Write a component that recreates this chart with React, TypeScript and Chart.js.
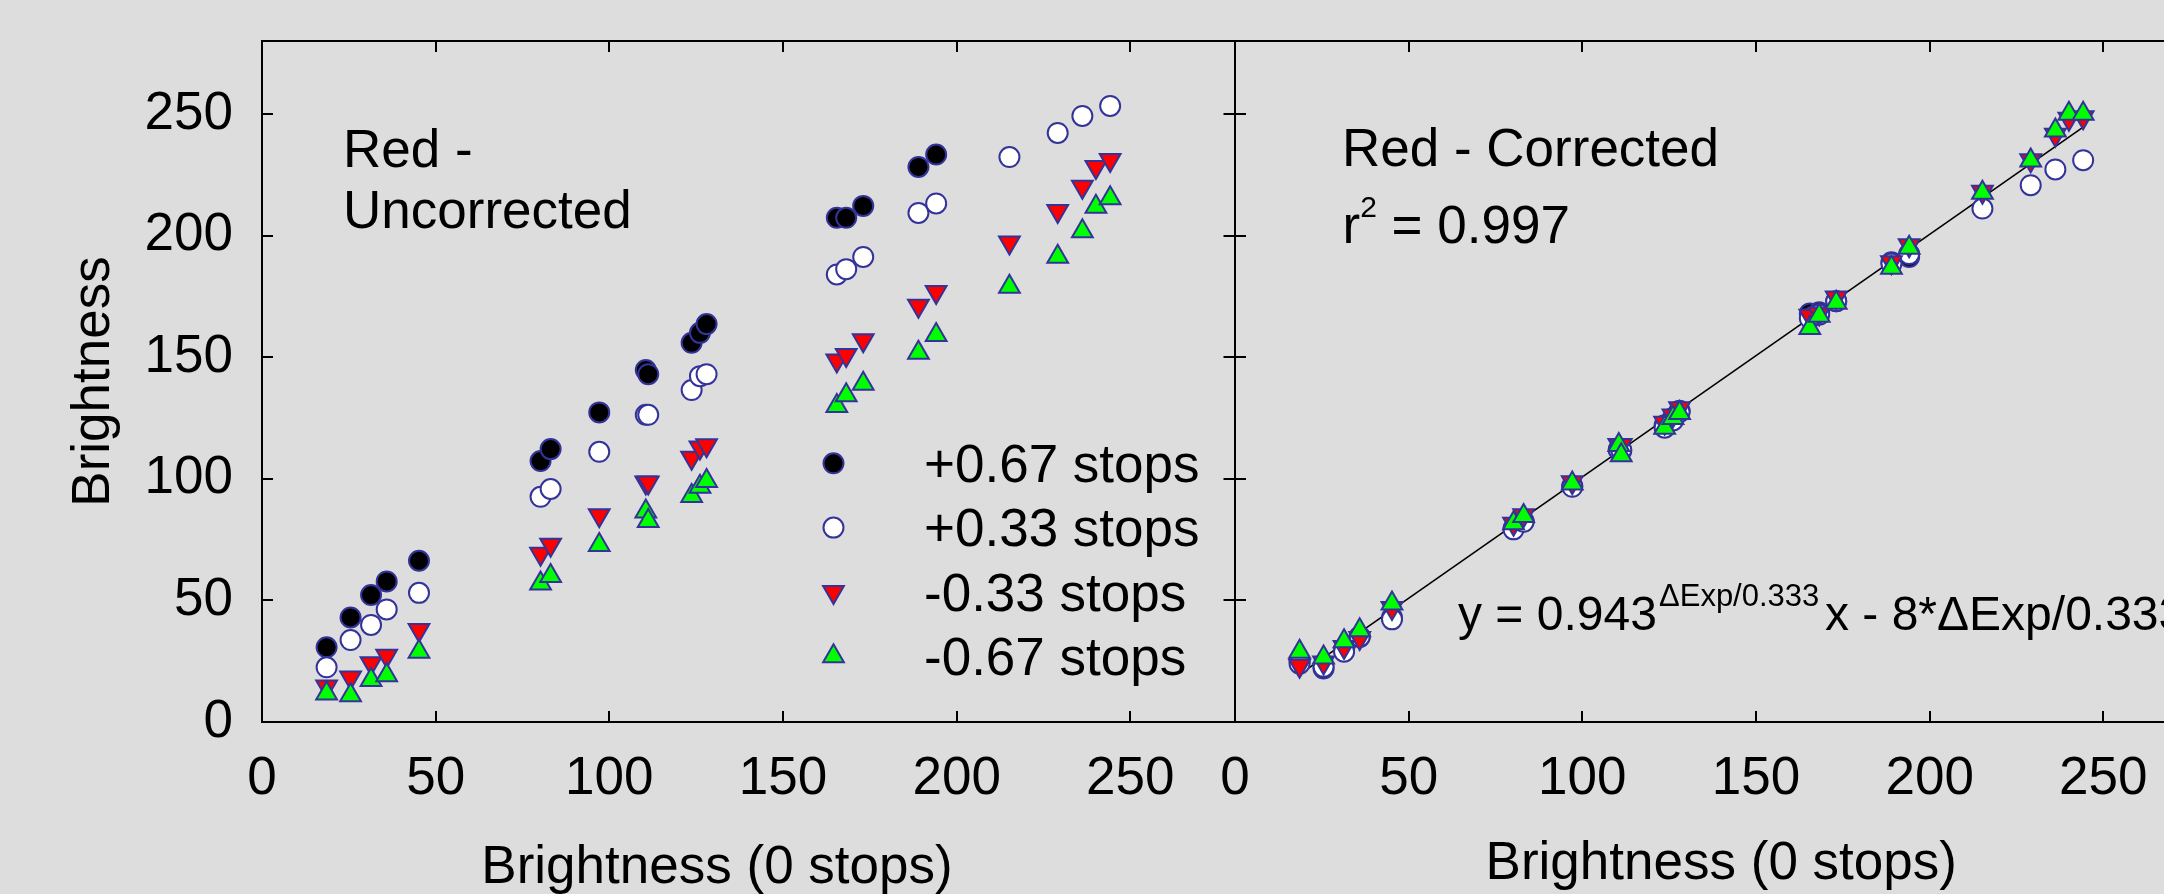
import React, { useEffect, useRef } from 'react';
import { Chart, registerables } from 'chart.js';
import { drawPoint } from 'chart.js/helpers';

Chart.register(...registerables);

// ---------------- data ----------------
const brightness0 = [18.6, 25.5, 31.4, 35.9, 45.2, 80.2, 83.1, 97.1, 110.5, 111.2, 123.7, 126.1, 128.0, 165.5, 168.2, 173.1, 189.0, 194.1, 215.2, 229.1, 236.2, 240.1, 244.2];

// Uncorrected
const rawPlus067 = [30.7, 43.0, 52.2, 57.8, 66.3, 107.3, 112.2, 127.3, 144.7, 143.0, 155.9, 160.0, 163.6, 207.3, 207.3, 212.2, 228.2, 233.3, null, null, null, null, null];
const rawPlus033 = [22.5, 33.7, 39.9, 46.3, 53.1, 92.6, 95.8, 111.1, 126.3, 126.3, 136.5, 142.2, 143.0, 184.0, 186.2, 191.2, 209.3, 213.2, 232.3, 242.2, 249.2, null, 253.3];
const rawMinus033 = [14.6, 18.3, 24.2, 27.2, 37.8, 69.2, 72.9, 85.0, 98.5, 98.5, 108.7, 112.9, 113.8, 148.6, 150.9, 157.0, 171.1, 176.8, 197.1, 210.1, 220.1, 228.2, 231.1];
const rawMinus067 = [11.7, 11.0, 17.3, 19.2, 28.9, 56.9, 60.0, 72.8, 86.5, 82.6, 92.9, 96.7, 99.1, 129.9, 134.3, 139.1, 151.8, 159.1, 179.0, 191.3, 201.8, 211.8, 215.3];

// Corrected
const corPlus067 = [25, 22, 29.5, 35, 43, 79.5, 82.5, 97, 112, 111.5, 122, 125, 128, 168, 168.5, 173, 189, 191.2, null, null, null, null, null];
const corPlus033 = [24, 22.7, 28.9, 35.1, 42.2, 79.2, 82.3, 96.7, 111.8, 111.8, 121, 124, 127.5, 166, 167.5, 173, 188.5, 192.4, 211.1, 220.7, 227.2, null, 231];
const corMinus033 = [23.1, 24.5, 30.8, 34.5, 46.9, 81.5, 85, 98.6, 113.9, 113.9, 123, 126, 129, 167, 168, 174.5, 189, 196, 218, 231, 241.5, 248, 248.7];
const corMinus067 = [28.9, 26.5, 33.2, 37.7, 48.7, 81.7, 84.7, 98.1, 113.9, 109.7, 121, 125, 127, 162, 167, 172.4, 186.8, 195, 217.6, 230.9, 243.2, 250.1, 250.1];

// fit line
const fitX = [18, 244];
const fitY = [19, 244.4];

// texts
const legendLabels = ['+0.67 stops', '+0.33 stops', '-0.33 stops', '-0.67 stops'];
const leftPanelTitle = ['Red -', 'Uncorrected'];
const rightPanelTitle = 'Red - Corrected';
const r2Text = ' = 0.997';
const eqMain = 'y = 0.943';
const eqSup = '\u0394Exp/0.333';
const eqTail = 'x - 8*\u0394Exp/0.333';
const xTitle = 'Brightness (0 stops)';
const yTitle = 'Brightness';

// ---------------- styles ----------------
const W = 2164;
const H = 894;
const BG = '#dddddd';
const EDGE = '#333399';
const FONT = "'Liberation Sans', Arial, Helvetica, sans-serif";
const FS = 53;
const EQ = 48;

const seriesStyles = [
  { fill: '#000000', pointStyle: 'circle', rotation: 0, radius: 10, order: 4 },
  { fill: '#ffffff', pointStyle: 'circle', rotation: 0, radius: 10, order: 3 },
  { fill: '#ff0000', pointStyle: 'triangle', rotation: 180, radius: 12, order: 2 },
  { fill: '#00ff00', pointStyle: 'triangle', rotation: 0, radius: 12, order: 1 },
];

const LEFT_W = 1260;
const RIGHT_L = 1150;
const RIGHT_W = 1100;
const AREA_TOP = 41;
const AREA_BOTTOM = 722;
const LEFT_AREA_L = 262;
const LEFT_AREA_R = 1234.5;
const RIGHT_AREA_L = 1235;
const RIGHT_AREA_R = 2207.5;

function toPoints(ys: (number | null)[]) {
  const out: { x: number; y: number }[] = [];
  brightness0.forEach((x, i) => {
    const y = ys[i];
    if (y !== null && y !== undefined) out.push({ x, y });
  });
  return out;
}

function makeDatasets(series: (number | null)[][], withFit: boolean) {
  const ds: any[] = series.map((s, i) => {
    const st = seriesStyles[i];
    return {
      label: legendLabels[i],
      data: toPoints(s),
      pointStyle: st.pointStyle,
      rotation: st.rotation,
      pointRadius: st.radius,
      pointHoverRadius: st.radius,
      pointBackgroundColor: st.fill,
      pointBorderColor: EDGE,
      pointBorderWidth: 2,
      backgroundColor: st.fill,
      borderColor: EDGE,
      showLine: false,
      order: st.order,
    };
  });
  if (withFit) {
    ds.push({
      label: 'fit',
      data: fitX.map((x, i) => ({ x, y: fitY[i] })),
      showLine: true,
      borderColor: '#000000',
      borderWidth: 1.6,
      pointRadius: 0,
      fill: false,
      order: 5,
    });
  }
  return ds;
}

function fitV(width: number) {
  return (s: any) => {
    s.width = width;
    s.paddingTop = 0;
    s.paddingBottom = 0;
    s.paddingLeft = 0;
    s.paddingRight = 0;
  };
}
function fitH(height: number) {
  return (s: any) => {
    s.height = height;
    s.paddingTop = 0;
    s.paddingBottom = 0;
    s.paddingLeft = 0;
    s.paddingRight = 0;
  };
}

function axisCommon(extra: any) {
  return {
    type: 'linear',
    min: 0,
    max: 280,
    border: { display: true, color: '#000', width: 2 },
    grid: {
      display: true,
      drawOnChartArea: false,
      drawTicks: true,
      tickLength: -11,
      tickWidth: 2,
      tickColor: '#000',
      color: '#000',
      lineWidth: 2,
    },
    ...extra,
    ticks: {
      stepSize: 50,
      includeBounds: false,
      autoSkip: false,
      maxRotation: 0,
      color: '#000',
      font: { family: FONT, size: FS, lineHeight: 1.2 },
      ...(extra.ticks || {}),
    },
  };
}

const leftDecor = {
  id: 'leftDecor',
  afterDraw(chart: any) {
    const ctx = chart.ctx as CanvasRenderingContext2D;
    ctx.save();
    ctx.fillStyle = '#000';
    ctx.font = `${FS}px ${FONT}`;
    ctx.textAlign = 'left';
    ctx.textBaseline = 'alphabetic';
    leftPanelTitle.forEach((t, i) => ctx.fillText(t, 343, 167 + i * 61));
    legendLabels.forEach((t, i) => {
      const base = 482 + i * 64.3;
      const st = seriesStyles[i];
      ctx.fillStyle = st.fill;
      ctx.strokeStyle = EDGE;
      ctx.lineWidth = 2;
      drawPoint(ctx, { pointStyle: st.pointStyle, rotation: st.rotation, radius: st.radius, borderWidth: 2 } as any, 833.5, base - 18.7);
      ctx.fillStyle = '#000';
      ctx.fillText(t, 924, base);
    });
    ctx.textAlign = 'center';
    ctx.fillText(xTitle, 717, 883);
    ctx.restore();
  },
};

const rightDecor = {
  id: 'rightDecor',
  afterDraw(chart: any) {
    const ctx = chart.ctx as CanvasRenderingContext2D;
    const ox = RIGHT_L;
    ctx.save();
    ctx.fillStyle = '#000';
    ctx.textAlign = 'left';
    ctx.textBaseline = 'alphabetic';
    ctx.font = `${FS}px ${FONT}`;
    ctx.fillText(rightPanelTitle, 1342 - ox, 166);
    let x = 1342.5 - ox;
    ctx.fillText('r', x, 243);
    x += ctx.measureText('r').width;
    ctx.font = `30px ${FONT}`;
    ctx.fillText('2', x, 216.5);
    x += ctx.measureText('2').width;
    ctx.font = `${FS}px ${FONT}`;
    ctx.fillText(r2Text, x, 243);
    // equation
    ctx.font = `${EQ}px ${FONT}`;
    ctx.fillText(eqMain, 1458 - ox, 630);
    ctx.font = `31px ${FONT}`;
    ctx.fillText(eqSup, 1659 - ox, 606);
    ctx.font = `${EQ}px ${FONT}`;
    ctx.fillText(eqTail, 1825 - ox, 630);
    ctx.restore();
  },
};

function leftConfig(): any {
  return {
    type: 'scatter',
    data: { datasets: makeDatasets([rawPlus067, rawPlus033, rawMinus033, rawMinus067], false) },
    options: {
      animation: false,
      responsive: false,
      devicePixelRatio: 1,
      events: [],
      layout: { padding: 0 },
      plugins: { legend: { display: false }, tooltip: { enabled: false } },
      scales: {
        x: axisCommon({
          position: 'bottom',
          ticks: { padding: 37 },
          afterFit: fitH(H - AREA_BOTTOM),
        }),
        xTop: axisCommon({
          axis: 'x',
          position: 'top',
          ticks: { display: false },
          afterFit: fitH(AREA_TOP),
        }),
        y: axisCommon({
          position: 'left',
          ticks: { padding: 40 },
          title: {
            display: true,
            text: yTitle,
            color: '#000',
            font: { family: FONT, size: FS, lineHeight: 1 },
            padding: { top: 68, bottom: 0 },
          },
          afterFit: fitV(LEFT_AREA_L),
        }),
        yRight: axisCommon({
          axis: 'y',
          position: 'right',
          ticks: { display: false },
          afterFit: fitV(LEFT_W - LEFT_AREA_R),
        }),
      },
    },
    plugins: [leftDecor],
  };
}

function rightConfig(): any {
  return {
    type: 'scatter',
    data: { datasets: makeDatasets([corPlus067, corPlus033, corMinus033, corMinus067], true) },
    options: {
      animation: false,
      responsive: false,
      devicePixelRatio: 1,
      events: [],
      layout: { padding: { left: 0, top: 0, bottom: 0, right: RIGHT_L + RIGHT_W - RIGHT_AREA_R } },
      plugins: { legend: { display: false }, tooltip: { enabled: false } },
      scales: {
        x: axisCommon({
          position: 'bottom',
          ticks: { padding: 37 },
          title: {
            display: true,
            text: xTitle,
            color: '#000',
            font: { family: FONT, size: FS, lineHeight: 1 },
            padding: { top: 0, bottom: 3 },
          },
          afterFit: fitH(H - AREA_BOTTOM),
        }),
        xTop: axisCommon({
          axis: 'x',
          position: 'top',
          ticks: { display: false },
          afterFit: fitH(AREA_TOP),
        }),
        y: axisCommon({
          position: 'left',
          ticks: { display: false },
          afterFit: fitV(RIGHT_AREA_L - RIGHT_L),
        }),
      },
    },
    plugins: [rightDecor],
  };
}

export default function App() {
  const leftRef = useRef<HTMLCanvasElement>(null);
  const rightRef = useRef<HTMLCanvasElement>(null);

  useEffect(() => {
    Chart.defaults.font.family = FONT;
    Chart.defaults.color = '#000';
    const c1 = new Chart(leftRef.current as HTMLCanvasElement, leftConfig());
    const c2 = new Chart(rightRef.current as HTMLCanvasElement, rightConfig());
    return () => {
      c1.destroy();
      c2.destroy();
    };
  }, []);

  return (
    <div
      style={{
        position: 'fixed',
        left: 0,
        top: 0,
        width: W,
        height: H,
        overflow: 'hidden',
        background: BG,
      }}
    >
      <canvas
        ref={leftRef}
        width={LEFT_W}
        height={H}
        style={{ position: 'absolute', left: 0, top: 0, width: LEFT_W, height: H }}
      />
      <canvas
        ref={rightRef}
        width={RIGHT_W}
        height={H}
        style={{ position: 'absolute', left: RIGHT_L, top: 0, width: RIGHT_W, height: H }}
      />
    </div>
  );
}
